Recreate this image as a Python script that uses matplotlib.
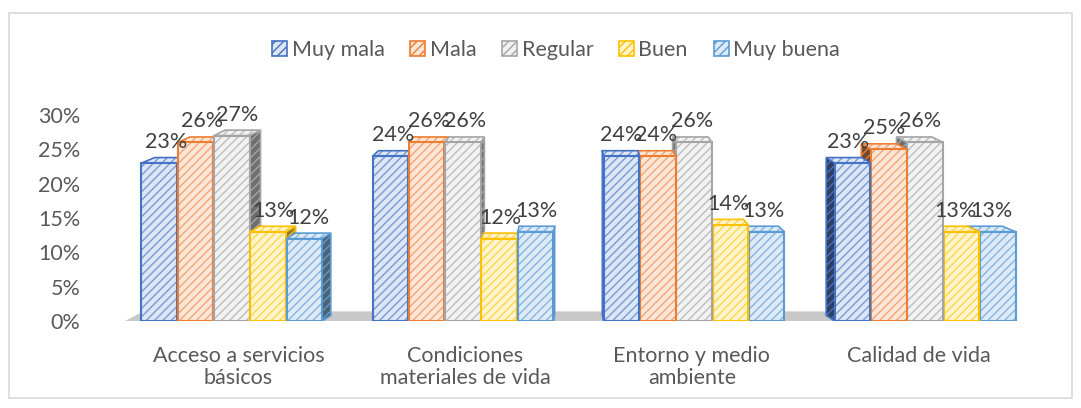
import numpy as np
import matplotlib
matplotlib.use("Agg")
import matplotlib.pyplot as plt
from matplotlib.patches import Polygon, Rectangle
from matplotlib.ticker import FuncFormatter

plt.rcParams['font.family'] = ['Lato', 'DejaVu Sans']
plt.rcParams['hatch.linewidth'] = 1.0

# Data
categories = ["Acceso a servicios\nbásicos", "Condiciones\nmateriales de vida",
              "Entorno y medio\nambiente", "Calidad de vida"]
series = ["Muy mala", "Mala", "Regular", "Buen", "Muy buena"]
values = {
    "Muy mala": [23, 24, 24, 23],
    "Mala": [26, 26, 24, 25],
    "Regular": [27, 26, 26, 26],
    "Buen": [13, 12, 14, 13],
    "Muy buena": [12, 13, 13, 13],
}

# Style: edge colour, light fill, hatch colour, dark side colour
styles = {
    "Muy mala": ("#4472C4", "#DCE6F5", "#7A9BD6", "#2F3F5E"),
    "Mala": ("#ED7D31", "#FCE6D8", "#F2A676", "#6B4A33"),
    "Regular": ("#A5A5A5", "#F2F2F2", "#BDBDBD", "#6E6E6E"),
    "Buen": ("#FFC000", "#FFF4CC", "#FFD54D", "#8A7A3A"),
    "Muy buena": ("#5B9BD5", "#DEEBF7", "#85B5E2", "#4F6272"),
}

text_col = "#595959"
label_col = "#404040"
fs = 15.5

fig = plt.figure(figsize=(10.81, 4.08), dpi=100)
fig.patches.append(Rectangle((9 / 1081, 10 / 408), 1063 / 1081, 385 / 408,
                             transform=fig.transFigure, fill=False,
                             edgecolor="#D9D9D9", linewidth=1.2))

ax = fig.add_axes([125 / 1081, (408 - 321) / 408, 907 / 1081, 206 / 408])
ax.set_xlim(-0.5, 3.5)
ax.set_ylim(0, 30)

width = 0.157
dy = 0.8
center = 1.5

# floor
ax.add_patch(Polygon([(-0.5, 0), (3.42, 0), (3.36, 1.4), (-0.42, 1.4)],
                     closed=True, facecolor="#C8C8C8", edgecolor="none", zorder=-10))

for i, s in enumerate(series):
    edge, fill, hatch_c, side_c = styles[s]
    for j, v in enumerate(values[s]):
        base = j + (i - 2) * width
        dx = 0.032 * (center - base)
        x = base - 0.6 * dx
        x0, x1 = x - width / 2, x + width / 2
        z = -abs(base - center)
        # side face
        if dx > 0:
            side = [(x1, 0), (x1 + dx, dy), (x1 + dx, v + dy), (x1, v)]
        else:
            side = [(x0, 0), (x0 + dx, dy), (x0 + dx, v + dy), (x0, v)]
        ax.add_patch(Polygon(side, closed=True, facecolor=side_c, edgecolor=edge,
                             hatch="////", linewidth=0, zorder=z))
        ax.add_patch(Polygon(side, closed=True, fill=False, edgecolor=edge,
                             linewidth=1.2, zorder=z))
        # top face
        top = [(x0, v), (x1, v), (x1 + dx, v + dy), (x0 + dx, v + dy)]
        ax.add_patch(Polygon(top, closed=True, facecolor=fill, edgecolor=hatch_c,
                             hatch="////", linewidth=0, zorder=z))
        ax.add_patch(Polygon(top, closed=True, fill=False, edgecolor=edge,
                             linewidth=1.2, zorder=z))
        # front face
        ax.bar(x, v, width, color=fill, edgecolor=hatch_c, hatch="////",
               linewidth=0, zorder=z)
        ax.bar(x, v, width, fill=False, edgecolor=edge, linewidth=1.5, zorder=z)
        ax.annotate(f"{v}%", (x + dx / 2, v + dy), xytext=(0, 4),
                    textcoords="offset points", ha="center", va="bottom",
                    fontsize=fs, color=label_col, zorder=10)

# legend
handles = [Rectangle((0, 0), 1, 1, facecolor=styles[s][1], edgecolor=styles[s][0],
                     hatch="////", linewidth=1.2) for s in series]
fig.legend(handles, series, loc="center", bbox_to_anchor=(556 / 1081, 1 - 50 / 408),
           ncol=5, frameon=False, fontsize=fs, labelcolor=text_col,
           handlelength=0.7, handleheight=0.7, handletextpad=0.2, columnspacing=1.2)

ax.set_xticks(range(len(categories)))
ax.set_xticklabels(categories, fontsize=fs, color=text_col, linespacing=1.1)
ax.set_yticks(np.arange(0, 31, 5))
ax.yaxis.set_major_formatter(FuncFormatter(lambda y, _: f"{int(y)}%"))
ax.tick_params(axis="y", labelsize=fs, colors=text_col, length=0, pad=32)
ax.tick_params(axis="x", length=0, pad=18)
for sp in ax.spines.values():
    sp.set_visible(False)

fig.savefig("out.png", dpi=100)
